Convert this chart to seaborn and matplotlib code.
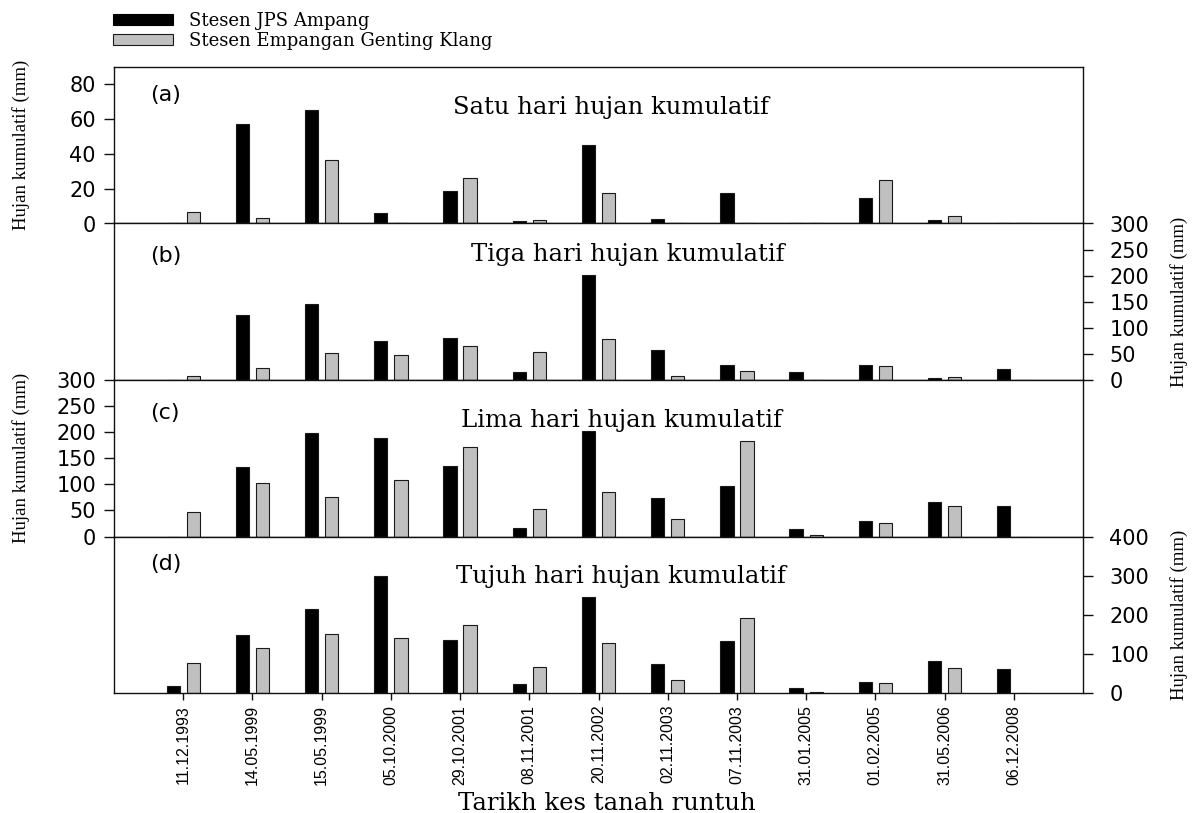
import matplotlib
matplotlib.use("Agg")
import matplotlib.pyplot as plt
import seaborn as sns
import pandas as pd
from matplotlib.patches import Patch

# ---------------- data ----------------
dates = ['11.12.1993', '14.05.1999', '15.05.1999', '05.10.2000', '29.10.2001',
         '08.11.2001', '20.11.2002', '02.11.2003', '07.11.2003', '31.01.2005',
         '01.02.2005', '31.05.2006', '06.12.2008']
stations = ['Stesen JPS Ampang', 'Stesen Empangan Genting Klang']

a_jps = [0, 57, 65, 6, 18.5, 1.5, 45, 2.5, 17.3, 0, 14.8, 1.9, 0]
a_gk = [6.8, 3.3, 36.6, 0, 26.4, 2, 17.3, 0, 0.5, 0, 25.3, 4.2, 0]

b_jps = [0, 125, 146, 75, 80, 16, 201, 58, 28, 14.6, 29.5, 4.5, 20.4]
b_gk = [8.3, 23, 51.6, 47.8, 65, 53, 78, 8.3, 16.6, 0, 26, 5.7, 0]

c_jps = [0, 134, 198, 189, 136, 16.4, 202, 73.3, 96.8, 15.3, 29.9, 66.9, 58]
c_gk = [46.8, 102.4, 76.5, 108, 172, 52.5, 85, 34.4, 183.5, 2.5, 26.1, 58.6, 0]

d_jps = [18.8, 149, 215, 299.5, 136.5, 23, 244.8, 73.3, 134, 13.6, 28, 82.7, 60.6]
d_gk = [77.6, 115, 152, 140.8, 174, 66.5, 127, 33.3, 191, 2.6, 25.6, 64, 0]

panel_tags = ['(a)', '(b)', '(c)', '(d)']
panel_titles = ['Satu hari hujan kumulatif', 'Tiga hari hujan kumulatif',
                'Lima hari hujan kumulatif', 'Tujuh hari hujan kumulatif']
y_max = [90, 300, 300, 400]
y_ticks = [[0, 20, 40, 60, 80], [0, 50, 100, 150, 200, 250, 300],
           [0, 50, 100, 150, 200, 250, 300], [0, 100, 200, 300, 400]]
y_side = ['left', 'right', 'left', 'right']
ylabel = 'Hujan kumulatif (mm)'
xlabel = 'Tarikh kes tanah runtuh'

# ---------------- style ----------------
sns.set_style('ticks')
plt.rcParams['font.family'] = ['DejaVu Sans']
plt.rcParams['text.color'] = 'black'
plt.rcParams['xtick.color'] = 'black'
plt.rcParams['ytick.color'] = 'black'
plt.rcParams['axes.labelcolor'] = 'black'

colors = ['#000000', '#c0c0c0']
W, H = 1197, 813
fig, axes = plt.subplots(4, 1, figsize=(W / 100, H / 100), dpi=100)
fig.subplots_adjust(left=114 / W, right=1083 / W, bottom=(H - 693) / H,
                    top=(H - 67) / H, hspace=0)

series = [(a_jps, a_gk), (b_jps, b_gk), (c_jps, c_gk), (d_jps, d_gk)]
tag_y = [0.82, 0.79, 0.79, 0.825]
title_y = [0.74, 0.80, 0.74, 0.746]
title_x = [0.513, 0.530, 0.524, 0.523]

for i, ax in enumerate(axes):
    jps, gk = series[i]
    df = pd.DataFrame({
        'Tarikh': dates * 2,
        'Stesen': [stations[0]] * len(dates) + [stations[1]] * len(dates),
        'Hujan': list(jps) + list(gk),
    })
    sns.barplot(data=df, x='Tarikh', y='Hujan', hue='Stesen', order=dates,
                hue_order=stations, palette=colors, width=0.58, gap=0.34,
                edgecolor='#1a1a1a', linewidth=0.8, errorbar=None,
                legend=False, ax=ax)
    ax.set_xlim(-1, 13)
    ax.set_ylim(0, y_max[i])
    ax.set_yticks(y_ticks[i])
    ax.set_xticks(range(len(dates)))
    for s in ax.spines.values():
        s.set_visible(True)
        s.set_color('#111111')
        s.set_linewidth(1.0)
    ax.tick_params(axis='x', direction='out', length=5, width=1, color='#111111')
    ax.tick_params(axis='y', direction='out', length=7, width=1, color='#111111',
                   labelsize=15, pad=6)
    if y_side[i] == 'right':
        ax.yaxis.tick_right()
        ax.yaxis.set_label_position('right')
        ax.tick_params(axis='y', pad=12)
        ax.set_ylabel(ylabel, family='Liberation Serif', fontsize=13.5)
        ax.yaxis.set_label_coords((1170 - 114) / 969, 0.5)
    else:
        ax.yaxis.tick_left()
        ax.set_ylabel(ylabel, family='Liberation Serif', fontsize=13.5)
        ax.yaxis.set_label_coords((30 - 114) / 969, 0.5)
    ax.set_xlabel('')
    if i < 3:
        ax.tick_params(axis='x', labelbottom=False)
    else:
        ax.set_xticklabels(dates, rotation=90, family='Liberation Sans', fontsize=11.5)
    ax.text(0.037, tag_y[i], panel_tags[i], transform=ax.transAxes, ha='left',
            va='center', fontsize=16, family='DejaVu Sans')
    ax.text(title_x[i], title_y[i], panel_titles[i], transform=ax.transAxes,
            ha='center', va='center', fontsize=17.5, family='DejaVu Serif')

fig.text(607 / W, (H - 810) / H, xlabel, ha='center', va='baseline',
         fontsize=17.5, family='DejaVu Serif')

handles = [Patch(facecolor=colors[0], edgecolor='#000000', linewidth=0.8),
           Patch(facecolor=colors[1], edgecolor='#1a1a1a', linewidth=0.8)]
leg = fig.legend(handles, stations, loc='upper left',
                 bbox_to_anchor=(113 / W, (H - 12) / H), frameon=False,
                 borderpad=0, borderaxespad=0, handlelength=3.3,
                 handleheight=0.55, handletextpad=0.9, labelspacing=0.12,
                 prop={'family': 'DejaVu Serif', 'size': 13})

fig.savefig('out.png', dpi=100)
